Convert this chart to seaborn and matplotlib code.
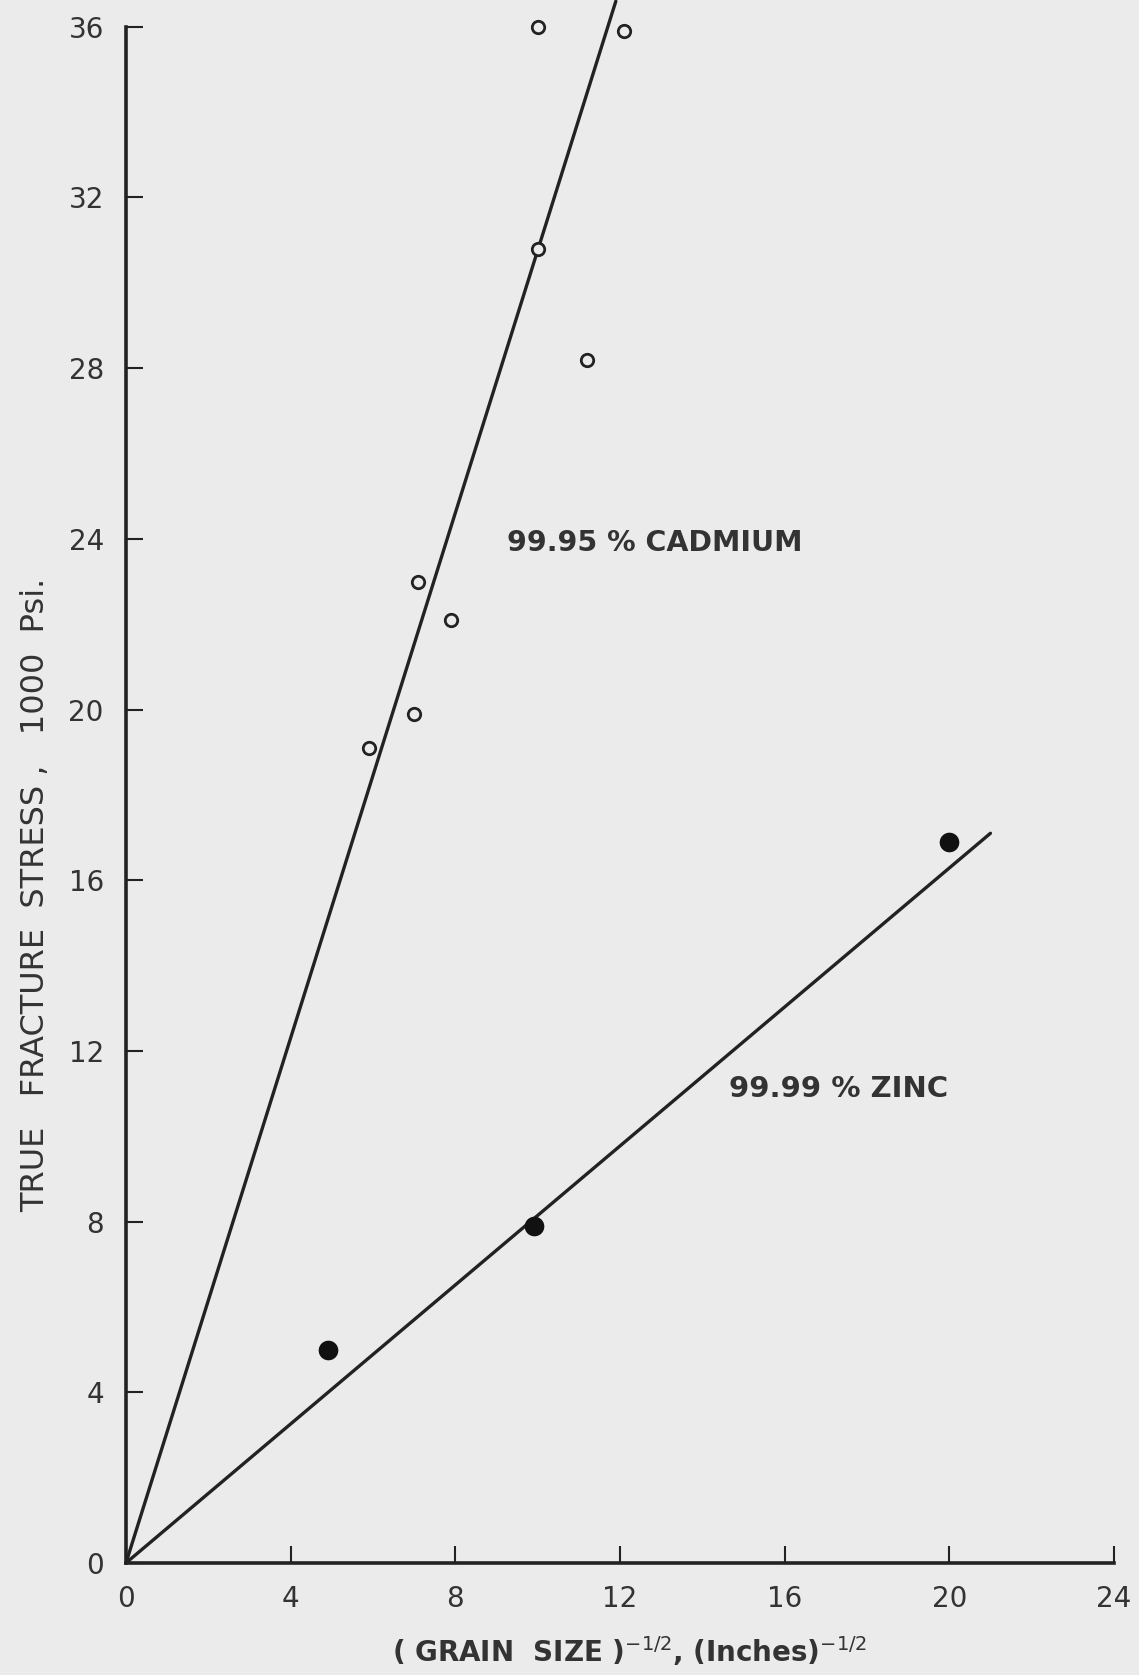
import matplotlib
matplotlib.use("Agg")
import matplotlib.pyplot as plt
import seaborn as sns
import pandas as pd

# ---- data ----
cad_x = [10.0, 12.1, 10.0, 11.2, 7.1, 7.9, 7.0, 5.9]
cad_y = [36.0, 35.9, 30.8, 28.2, 23.0, 22.1, 19.9, 19.1]
zinc_x = [4.9, 9.9, 20.0]
zinc_y = [5.0, 7.9, 16.9]
cad_line_x = [0, 11.9]
cad_line_y = [0, 36.6]
zinc_line_x = [0, 21.0]
zinc_line_y = [0, 17.1]
xticks = [0, 4, 8, 12, 16, 20, 24]
yticks = [0, 4, 8, 12, 16, 20, 24, 28, 32, 36]

bg = "#ebebeb"
ink = "#222222"
txt = "#333333"

sns.set_theme(style="ticks")
plt.rcParams['font.family'] = ['DejaVu Sans']

fig = plt.figure(figsize=(11.39, 16.75), dpi=100, facecolor=bg)
ax = fig.add_axes([0.1106, 0.0669, 0.978 - 0.1106, 0.984 - 0.0669])
ax.set_facecolor(bg)

cad_line = pd.DataFrame({"x": cad_line_x, "y": cad_line_y})
zinc_line = pd.DataFrame({"x": zinc_line_x, "y": zinc_line_y})
sns.lineplot(data=cad_line, x="x", y="y", ax=ax, color=ink, lw=2.4, clip_on=False)
sns.lineplot(data=zinc_line, x="x", y="y", ax=ax, color=ink, lw=2.4, clip_on=False)

cad = pd.DataFrame({"x": cad_x, "y": cad_y})
zinc = pd.DataFrame({"x": zinc_x, "y": zinc_y})
sns.scatterplot(data=cad, x="x", y="y", ax=ax, marker="o", s=80,
                facecolor=bg, edgecolor=ink, linewidth=2.0, clip_on=False, zorder=3)
sns.scatterplot(data=zinc, x="x", y="y", ax=ax, marker="o", s=200,
                color="#111111", edgecolor="#111111", linewidth=0, clip_on=False, zorder=3)

ax.set_xlim(0, 24)
ax.set_ylim(0, 36)
ax.set_xticks(xticks)
ax.set_yticks(yticks)
ax.set_xticklabels([str(v) for v in xticks])
ax.set_yticklabels([str(v) for v in yticks])
ax.tick_params(axis="both", direction="in", length=12, width=1.5, color=ink,
               labelsize=20, labelcolor=txt)
ax.tick_params(axis="x", pad=16)
ax.tick_params(axis="y", pad=16)
for side in ["top", "right"]:
    ax.spines[side].set_visible(False)
for side in ["left", "bottom"]:
    ax.spines[side].set_linewidth(2.6)
    ax.spines[side].set_color(ink)

ax.set_xlabel("")
ax.set_ylabel("")

ax.text(9.25, 23.9, "99.95 % CADMIUM", fontsize=20.5, fontweight="bold",
        color=txt, va="center", ha="left")
ax.text(14.65, 11.1, "99.99 % ZINC", fontsize=21, fontweight="bold",
        color=txt, va="center", ha="left")

fig.text(0.031, 0.466, "TRUE   FRACTURE  STRESS ,   1000  Psi.", rotation=90,
         fontsize=23, color=txt, ha="center", va="center")
fig.text(0.553, 0.004, r"( GRAIN  SIZE )$^{-1/2}$, (Inches)$^{-1/2}$",
         fontsize=20, fontweight="bold", color=txt, ha="center", va="bottom")

fig.savefig("out.png", dpi=100, facecolor=bg)
